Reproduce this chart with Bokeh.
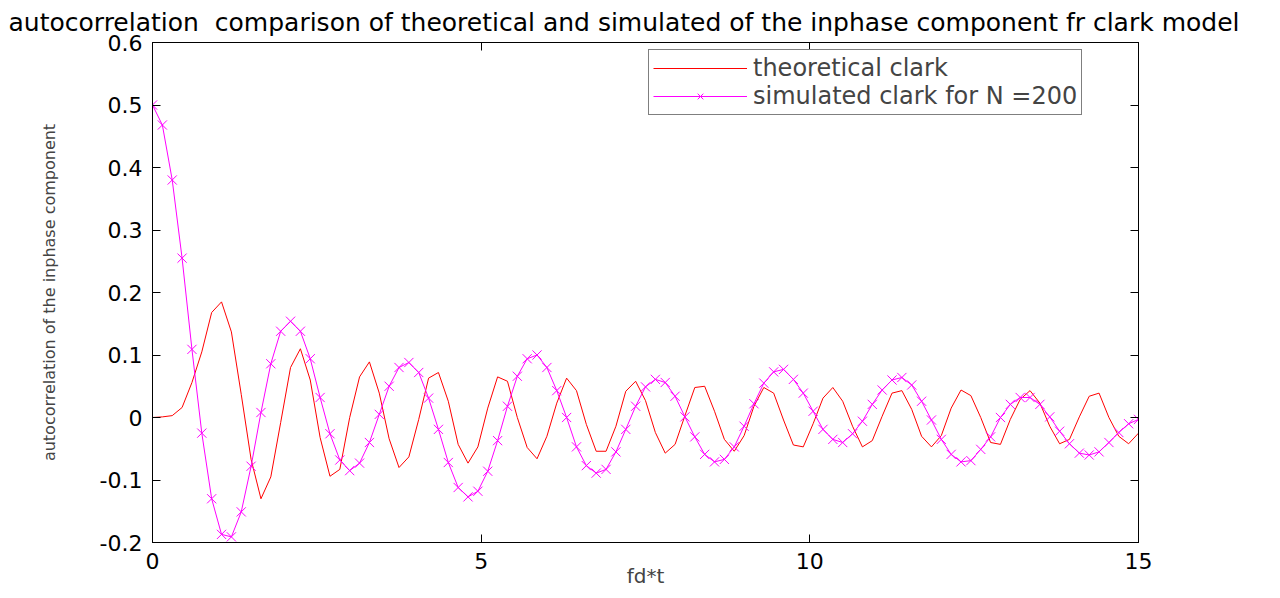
from bokeh.plotting import figure
from bokeh.models import (LinearAxis, FixedTicker, CustomJSTickFormatter, Legend,
                          LegendItem, Range1d, ColumnDataSource)
from bokeh.embed import file_html
from bokeh.resources import INLINE

# sample grid fd*t (101 samples, step 0.15)
tau = [round(0.15 * i, 2) for i in range(101)]

theoretical = [
    0.000, 0.001, 0.003, 0.016, 0.056, 0.105, 0.168, 0.185, 0.137, 0.037,
    -0.067, -0.130, -0.095, -0.008, 0.080, 0.110, 0.060, -0.032, -0.094, -0.083,
    0.000, 0.065, 0.089, 0.039, -0.034, -0.080, -0.063, -0.003, 0.063, 0.072,
    0.026, -0.043, -0.073, -0.047, 0.015, 0.065, 0.058, 0.000, -0.048, -0.066,
    -0.030, 0.023, 0.063, 0.043, -0.011, -0.054, -0.054, -0.014, 0.042, 0.058,
    0.027, -0.024, -0.057, -0.043, 0.003, 0.048, 0.050, 0.010, -0.035, -0.054,
    -0.029, 0.018, 0.048, 0.039, -0.004, -0.044, -0.047, -0.010, 0.031, 0.048,
    0.026, -0.014, -0.047, -0.037, 0.002, 0.039, 0.043, 0.013, -0.030, -0.047,
    -0.029, 0.015, 0.044, 0.035, 0.000, -0.040, -0.043, -0.003, 0.029, 0.043,
    0.023, -0.014, -0.042, -0.035, 0.001, 0.034, 0.039, 0.000, -0.030, -0.042,
    -0.025,
]

simulated = [
    0.500, 0.468, 0.380, 0.255, 0.109, -0.025, -0.130, -0.187, -0.191, -0.151,
    -0.078, 0.008, 0.086, 0.138, 0.154, 0.138, 0.094, 0.032, -0.026, -0.068,
    -0.085, -0.073, -0.040, 0.005, 0.050, 0.080, 0.088, 0.072, 0.031, -0.019,
    -0.072, -0.112, -0.127, -0.118, -0.086, -0.037, 0.018, 0.066, 0.094, 0.100,
    0.080, 0.043, 0.000, -0.047, -0.077, -0.089, -0.083, -0.055, -0.019, 0.018,
    0.049, 0.061, 0.056, 0.034, 0.001, -0.031, -0.059, -0.071, -0.067, -0.047,
    -0.014, 0.022, 0.055, 0.073, 0.077, 0.061, 0.039, 0.010, -0.019, -0.035,
    -0.040, -0.026, -0.006, 0.021, 0.044, 0.060, 0.064, 0.052, 0.026, -0.004,
    -0.035, -0.059, -0.071, -0.069, -0.051, -0.031, 0.000, 0.021, 0.032, 0.032,
    0.021, 0.001, -0.022, -0.042, -0.057, -0.060, -0.055, -0.040, -0.024, -0.010,
    -0.003,
]

x_ticks = [0, 5, 10, 15]
y_ticks = [-0.2, -0.1, 0, 0.1, 0.2, 0.3, 0.4, 0.5, 0.6]

title_text = ("autocorrelation\u00a0 comparison of theoretical and simulated "
              "of the inphase component fr clark model")
legend_labels = ["theoretical clark", "simulated clark for N =200"]
x_label = "fd*t"
y_label = "autocorrelation of the inphase component"

FONT = "DejaVu Sans"

src = ColumnDataSource(dict(tau=tau, theoretical=theoretical, simulated=simulated))

p = figure(width=1272, height=590, output_backend="svg", toolbar_location=None,
           x_range=Range1d(0, 15), y_range=Range1d(-0.2, 0.6),
           min_border_left=152, min_border_right=134,
           min_border_top=40, min_border_bottom=46,
           title=title_text, background_fill_color="white",
           border_fill_color="white")
p.grid.visible = False
p.outline_line_color = "black"

p.title.text_font = FONT
p.title.text_font_size = "25px"
p.title.text_font_style = "normal"
p.title.text_color = "black"
p.title.align = "left"
p.title.offset = -144
p.title.standoff = 11

# box axes (ticks inside, no labels)
p.add_layout(LinearAxis(), "above")
p.add_layout(LinearAxis(), "right")

yfmt = CustomJSTickFormatter(code="return Math.abs(tick) < 1e-9 ? '0' : tick.toFixed(1);")

for ax in p.axis:
    ax.major_tick_in = 8
    ax.major_tick_out = 0
    ax.minor_tick_line_color = None
    ax.axis_line_color = "black"
    ax.major_tick_line_color = "black"
    ax.major_label_text_font = FONT
    ax.major_label_text_font_size = "22px"
    ax.major_label_text_color = "black"

for ax in p.xaxis:
    ax.ticker = FixedTicker(ticks=x_ticks)
for ax in p.yaxis:
    ax.ticker = FixedTicker(ticks=y_ticks)
    ax.formatter = yfmt

for ax in (p.above[0], p.right[0]):
    ax.major_label_text_font_size = "0px"
    ax.major_label_text_color = None
    ax.major_label_standoff = 0

xa = p.below[0]
xa.major_label_standoff = 10
xa.axis_label = x_label
xa.axis_label_text_font = FONT
xa.axis_label_text_font_size = "20px"
xa.axis_label_text_font_style = "normal"
xa.axis_label_standoff = -8

ya = p.left[0]
ya.major_label_standoff = 10
ya.axis_label = y_label
ya.axis_label_text_font = FONT
ya.axis_label_text_font_size = "16px"
ya.axis_label_text_font_style = "normal"
ya.axis_label_standoff = 38

r_th = p.line("tau", "theoretical", source=src, line_color="#ff0000", line_width=1)
r_sl = p.line("tau", "simulated", source=src, line_color="#ff00ff", line_width=1)
r_sp = p.scatter("tau", "simulated", source=src, marker="x", size=13,
                 line_color="#ff00ff", line_width=1)

legend = Legend(items=[LegendItem(label=legend_labels[0], renderers=[r_th]),
                       LegendItem(label=legend_labels[1], renderers=[r_sl, r_sp])],
                location=(496, 427), margin=0, padding=4, spacing=0,
                glyph_width=94, glyph_height=20, label_standoff=6,
                label_text_font=FONT, label_text_font_size="24px",
                border_line_color="black", border_line_width=1,
                background_fill_color="white", background_fill_alpha=1)
p.add_layout(legend)

open("out.html", "w").write(file_html(p, INLINE))
